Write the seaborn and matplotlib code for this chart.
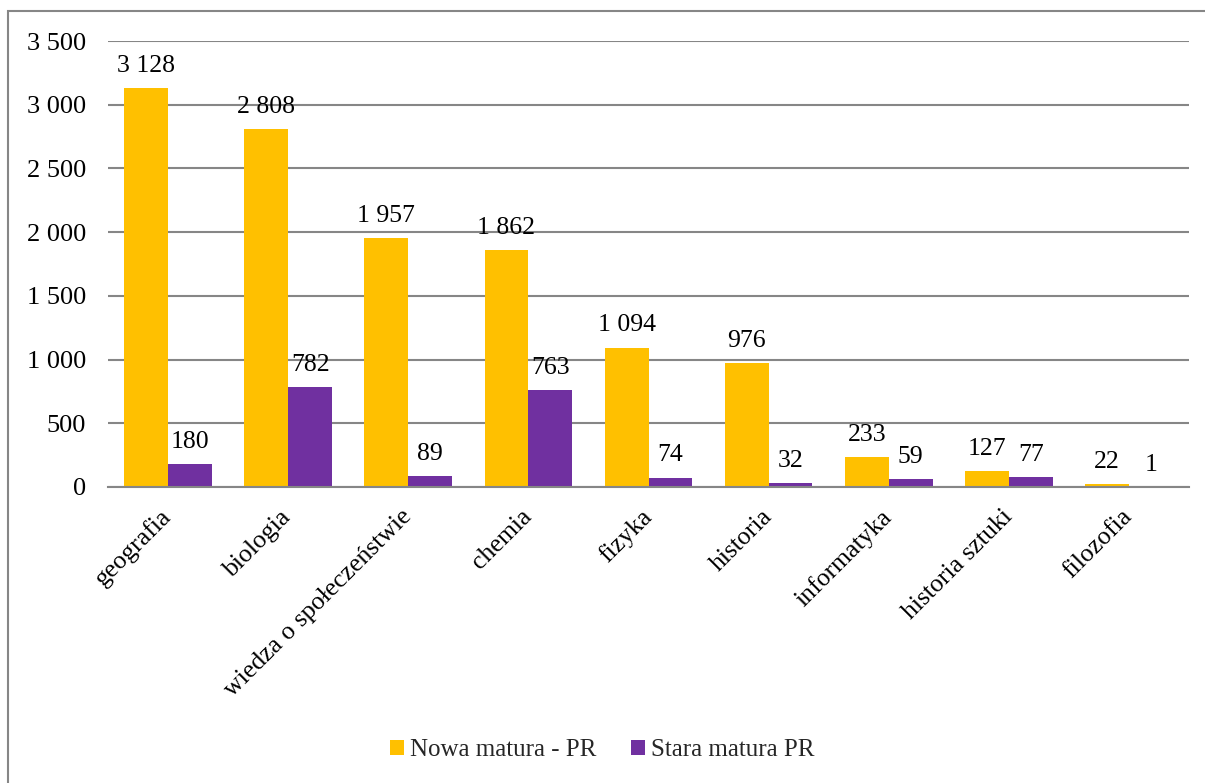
import matplotlib
matplotlib.use("Agg")
import matplotlib.pyplot as plt
import seaborn as sns
import pandas as pd
from matplotlib.patches import Rectangle
from matplotlib.ticker import FuncFormatter

categories = ["geografia", "biologia", "wiedza o społeczeństwie", "chemia", "fizyka",
              "historia", "informatyka", "historia sztuki", "filozofia"]
series_names = ["Nowa matura - PR", "Stara matura PR"]
nowa = [3128, 2808, 1957, 1862, 1094, 976, 233, 127, 22]
stara = [180, 782, 89, 763, 74, 32, 59, 77, 1]
y_ticks = [0, 500, 1000, 1500, 2000, 2500, 3000, 3500]
colors = ["#FFC000", "#7030A0"]

df = pd.DataFrame({
    "kategoria": categories * 2,
    "seria": [series_names[0]] * len(categories) + [series_names[1]] * len(categories),
    "wartosc": nowa + stara,
})

sns.set_theme(style="white")
plt.rcParams["font.family"] = ["Liberation Serif", "DejaVu Serif"]
plt.rcParams["font.size"] = 18

fig = plt.figure(figsize=(12.05, 7.83), dpi=100)
ax = fig.add_axes([108 / 1205, 1 - 487 / 783, (1189 - 108) / 1205, (487 - 41) / 783])

sns.barplot(data=df, x="kategoria", y="wartosc", hue="seria", palette=colors,
            width=0.73, gap=0, ax=ax, saturation=1, legend=True, linewidth=0)

fmt = lambda v: f"{int(round(v)):,}".replace(",", " ")
for cont in ax.containers:
    ax.bar_label(cont, labels=[fmt(b.get_height()) for b in cont], padding=8,
                 fontsize=18.5, color="black")

ax.set_ylim(0, 3500)
ax.set_yticks(y_ticks)
ax.yaxis.set_major_formatter(FuncFormatter(lambda v, p: fmt(v)))
ax.set_xlim(-0.5, len(categories) - 0.5)
ax.grid(axis="y", color="#868686", linewidth=1.5)
ax.set_axisbelow(True)
for s in ["left", "right", "top"]:
    ax.spines[s].set_visible(False)
ax.spines["bottom"].set_color("#868686")
ax.spines["bottom"].set_linewidth(1.5)
ax.tick_params(axis="y", length=0, pad=16, labelsize=19, labelcolor="black")
ax.tick_params(axis="x", length=0, pad=19, labelsize=18.5, labelcolor="black")
ax.set_xlabel("")
ax.set_ylabel("")
for lab in ax.get_xticklabels():
    lab.set_rotation(45)
    lab.set_ha("right")
    lab.set_va("center")
    lab.set_rotation_mode("anchor")

leg = ax.legend(loc="center", bbox_to_anchor=(0.5, 1 - 750 / 783),
                bbox_transform=fig.transFigure, ncol=2, frameon=False,
                fontsize=18, handlelength=0.55, handleheight=0.55,
                handletextpad=0.25, columnspacing=1.4)

fig.patches.append(Rectangle((8 / 1205, -0.1), 1.2, 1 - 11 / 783 + 0.1,
                             transform=fig.transFigure, fill=False,
                             edgecolor="#868686", linewidth=1.5, zorder=-1))

fig.savefig("out.png", dpi=100)
